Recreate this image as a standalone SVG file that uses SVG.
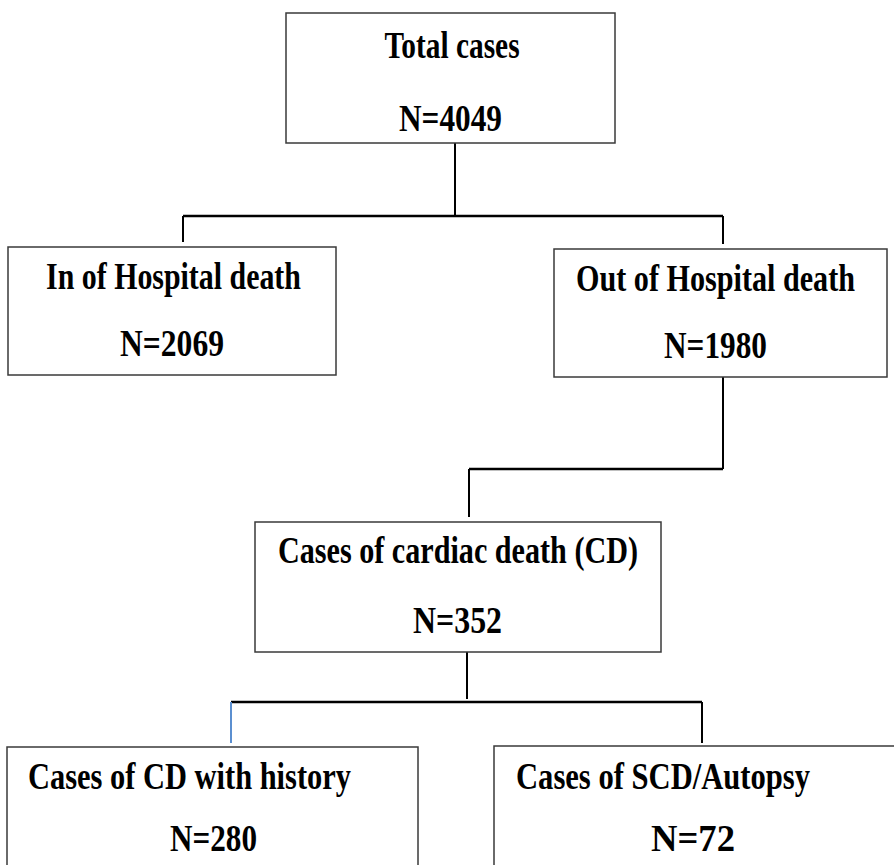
<svg xmlns="http://www.w3.org/2000/svg" width="894" height="865" viewBox="0 0 894 865">
<style>
.box{fill:#ffffff;stroke:#3a3a3a;stroke-width:1.5}
.t{font-family:"Liberation Serif","Times New Roman",serif;font-weight:bold;font-size:37px;fill:#000;text-anchor:middle}
.c{fill:none;stroke:#000;stroke-width:2}
.h{fill:none;stroke:#000;stroke-width:2.5}
</style>
<rect width="894" height="865" fill="#ffffff"/>
<g id="connectors">
<line class="c" x1="455" y1="143" x2="455" y2="216"/>
<line class="h" x1="183" y1="216" x2="723" y2="216"/>
<line class="c" x1="183" y1="216" x2="183" y2="242"/>
<line class="c" x1="723" y1="216" x2="723" y2="244"/>
<line class="c" x1="723" y1="377" x2="723" y2="469"/>
<line class="h" x1="469" y1="469" x2="723" y2="469"/>
<line class="c" x1="469" y1="469" x2="469" y2="517"/>
<line class="c" x1="467" y1="652" x2="467" y2="699"/>
<line class="h" x1="231" y1="702" x2="702" y2="702"/>
<line x1="231" y1="702" x2="231" y2="743" stroke="#5b8fd0" stroke-width="2"/>
<line class="c" x1="702" y1="702" x2="702" y2="743"/>
</g>
<g id="total">
<rect class="box" x="286" y="13" width="329" height="130"/>
<text class="t" transform="translate(452,58) scale(0.794,1)">Total cases</text>
<text class="t" transform="translate(450.5,131) scale(0.846,1)">N=4049</text>
</g>
<g id="in-hospital">
<rect class="box" x="8" y="247" width="328" height="128"/>
<text class="t" transform="translate(173.5,289) scale(0.808,1)">In of Hospital death</text>
<text class="t" transform="translate(172,356) scale(0.854,1)">N=2069</text>
</g>
<g id="out-hospital">
<rect class="box" x="554" y="249" width="333" height="128"/>
<text class="t" transform="translate(715.5,291) scale(0.815,1)">Out of Hospital death</text>
<text class="t" transform="translate(715.5,358) scale(0.846,1)">N=1980</text>
</g>
<g id="cardiac">
<rect class="box" x="255" y="522" width="406" height="130"/>
<text class="t" transform="translate(458,563) scale(0.815,1)">Cases of cardiac death (CD)</text>
<text class="t" transform="translate(457.5,633) scale(0.862,1)">N=352</text>
</g>
<g id="history">
<rect class="box" x="7" y="747" width="411" height="130"/>
<text class="t" transform="translate(189.5,789) scale(0.823,1)">Cases of CD with history</text>
<text class="t" transform="translate(213.5,851) scale(0.842,1)">N=280</text>
</g>
<g id="scd">
<rect class="box" x="494" y="746" width="420" height="130"/>
<text class="t" transform="translate(663,789) scale(0.827,1)">Cases of SCD/Autopsy</text>
<text class="t" transform="translate(693,851) scale(0.99,1)">N=72</text>
</g>
</svg>
